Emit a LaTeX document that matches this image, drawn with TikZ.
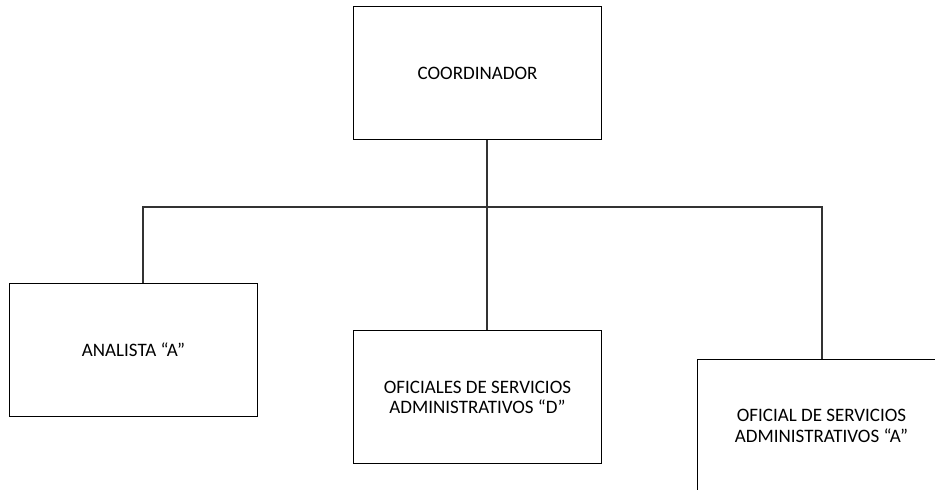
\documentclass[tikz,border=0pt]{standalone}
\usepackage{fontspec}
\setmainfont{Carlito}
\begin{document}
\begin{tikzpicture}[x=1pt,y=-1pt,
  orgbox/.style={draw=black, line width=1.1pt, fill=white, minimum width=248.4pt, minimum height=133pt,
    align=center, font=\fontsize{19}{20.5}\selectfont, inner sep=0pt},
  link/.style={draw=black!80, line width=1.1pt}]
\useasboundingbox (0,0) rectangle (935,490);
\clip (0,0) rectangle (935,490);
\fill[white] (0,0) rectangle (935,490);
\node[orgbox] (coord) at (477.5,73.3) {COORDINADOR};
\node[orgbox] (ana) at (133.5,349.7) {ANALISTA “A”};
\node[orgbox] (ofd) at (477.5,397.3) {OFICIALES DE SERVICIOS\\ADMINISTRATIVOS “D”};
\node[orgbox] (ofa) at (821.5,426) {OFICIAL DE SERVICIOS\\ADMINISTRATIVOS “A”};
\coordinate (mid) at (487,207);
\coordinate (la) at (143,207);
\coordinate (ra) at (822,207);
\draw[link] (coord.south -| mid) -- (ofd.north -| mid);
\draw[link] (ana.north -| la) -- (la) -- (ra) -- (ofa.north -| ra);
\end{tikzpicture}
\end{document}
